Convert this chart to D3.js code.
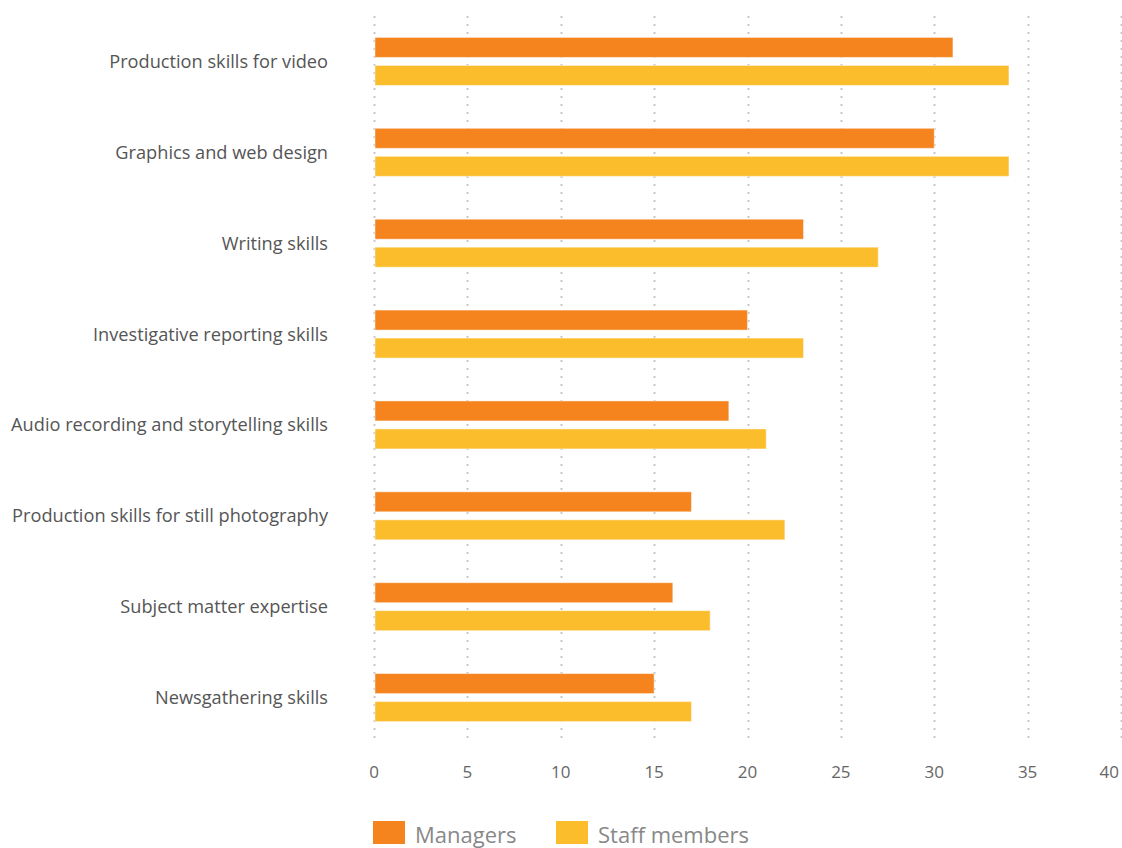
<!DOCTYPE html>
<html>
<head>
<meta charset="utf-8">
<script src="https://cdn.jsdelivr.net/npm/d3@7"></script>
<style>
  html, body { margin: 0; padding: 0; background: #fff; }
  svg { display: block; }
</style>
</head>
<body>
<svg id="chart" width="1122" height="848"></svg>
<script>
// Skills categories, top to bottom
const categories = [
  "Production skills for video",
  "Graphics and web design",
  "Writing skills",
  "Investigative reporting skills",
  "Audio recording and storytelling skills",
  "Production skills for still photography",
  "Subject matter expertise",
  "Newsgathering skills"
];
const managers = [31, 30, 23, 20, 19, 17, 16, 15];
const staff    = [34, 34, 27, 23, 21, 22, 18, 17];
const seriesNames = ["Managers", "Staff members"];
const xTicks = [0, 5, 10, 15, 20, 25, 30, 35, 40];

const colors = { "Managers": "#F5841F", "Staff members": "#FBBD2C" };
const font = "'Open Sans', Lato, sans-serif";

const svg = d3.select("#chart");

const x = d3.scaleLinear().domain([0, 40]).range([374, 1121]);
const y = d3.scaleBand().domain(categories).range([16, 743]);
const barH = 20, barGap = 8;

// dotted vertical gridlines
svg.append("g")
  .selectAll("line")
  .data(xTicks)
  .join("line")
  .attr("x1", d => Math.round(x(d)) + 0.5)
  .attr("x2", d => Math.round(x(d)) + 0.5)
  .attr("y1", 16)
  .attr("y2", 740)
  .attr("stroke", "#c8c8c8")
  .attr("stroke-width", 2)
  .attr("stroke-dasharray", "2,6");

// tick labels
svg.append("g")
  .selectAll("text")
  .data(xTicks)
  .join("text")
  .attr("x", (d, i) => i === xTicks.length - 1 ? x(d) - 2 : x(d))
  .attr("y", 778)
  .attr("text-anchor", (d, i) => i === xTicks.length - 1 ? "end" : "middle")
  .attr("font-family", font)
  .attr("font-size", 17)
  .attr("fill", "#666")
  .text(d => d);

// category labels
svg.append("g")
  .selectAll("text")
  .data(categories)
  .join("text")
  .attr("x", 328)
  .attr("y", d => y(d) + y.bandwidth() / 2 + 6.5)
  .attr("text-anchor", "end")
  .attr("font-family", font)
  .attr("font-size", 18.2)
  .attr("fill", "#555")
  .text(d => d);

// bars
const pairTop = d => y(d) + (y.bandwidth() - (2 * barH + barGap)) / 2;
const rows = categories.map((c, i) => ({ c, m: managers[i], s: staff[i] }));

const g = svg.append("g");
g.selectAll("rect.m")
  .data(rows)
  .join("rect")
  .attr("class", "m")
  .attr("x", x(0) + 1)
  .attr("y", d => pairTop(d.c))
  .attr("width", d => x(d.m) - x(0) - 1)
  .attr("height", barH)
  .attr("fill", colors["Managers"])
  .attr("stroke", "rgba(255,255,255,0.45)")
  .attr("stroke-width", 1);

g.selectAll("rect.s")
  .data(rows)
  .join("rect")
  .attr("class", "s")
  .attr("x", x(0) + 1)
  .attr("y", d => pairTop(d.c) + barH + barGap)
  .attr("width", d => x(d.s) - x(0) - 1)
  .attr("height", barH)
  .attr("fill", colors["Staff members"])
  .attr("stroke", "rgba(255,255,255,0.45)")
  .attr("stroke-width", 1);

// legend
const legendX = [373, 556];
const lg = svg.append("g")
  .selectAll("g")
  .data(seriesNames)
  .join("g")
  .attr("transform", (d, i) => `translate(${legendX[i]},821)`);
lg.append("rect")
  .attr("width", 32)
  .attr("height", 23)
  .attr("fill", d => colors[d]);
lg.append("text")
  .attr("x", 42)
  .attr("y", 22)
  .attr("font-family", font)
  .attr("font-size", 22)
  .attr("fill", "#888")
  .text(d => d);
</script>
</body>
</html>
